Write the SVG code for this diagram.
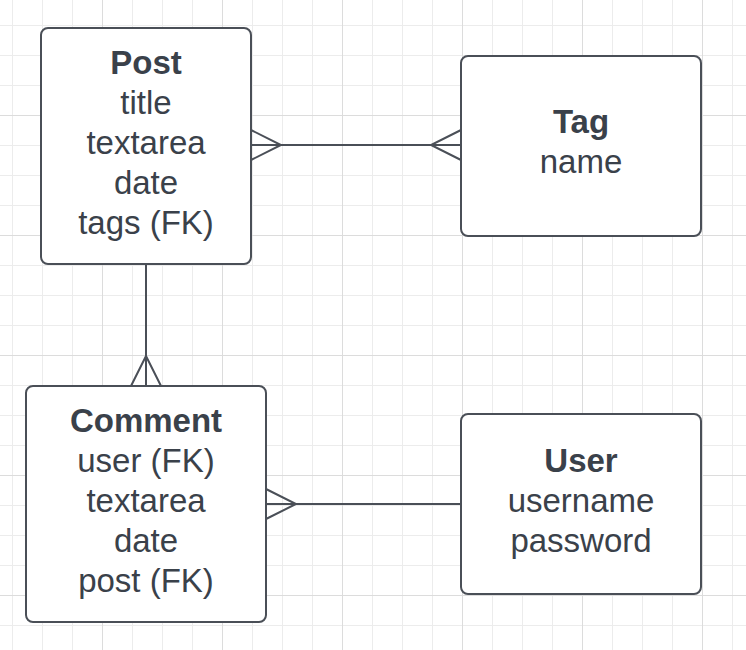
<svg xmlns="http://www.w3.org/2000/svg" width="746" height="650" viewBox="0 0 746 650">
  <style>
    .box { fill: #ffffff; stroke: #4a4f57; stroke-width: 2; }
    .conn { fill: none; stroke: #4a4f57; stroke-width: 2; }
    .t { font-family: "Liberation Sans", Arial, sans-serif; font-size: 33px; fill: #3a414a; text-anchor: middle; }
    .h { font-weight: bold; }
  </style>
  <defs>
    <pattern id="grid" patternUnits="userSpaceOnUse" x="12" y="25" width="120" height="120">
      <rect x="0" y="0" width="1" height="120" fill="#ececec"/>
      <rect x="30" y="0" width="1" height="120" fill="#ececec"/>
      <rect x="60" y="0" width="1" height="120" fill="#ececec"/>
      <rect x="0" y="0" width="120" height="1" fill="#ececec"/>
      <rect x="0" y="30" width="120" height="1" fill="#ececec"/>
      <rect x="0" y="60" width="120" height="1" fill="#ececec"/>
      <rect x="90" y="0" width="1" height="120" fill="#dcdcdc"/>
      <rect x="0" y="90" width="120" height="1" fill="#dcdcdc"/>
    </pattern>
  </defs>
  <rect x="0" y="0" width="746" height="650" fill="#ffffff"/>
  <rect x="0" y="0" width="746" height="650" fill="url(#grid)"/>

  <g id="connectors">
    <!-- Post - Tag -->
    <path class="conn" d="M251,145 H461"/>
    <path class="conn" d="M251,130 L281,145 L251,160"/>
    <path class="conn" d="M461,130 L431,145 L461,160"/>
    <!-- Post - Comment -->
    <path class="conn" d="M146,264 V386"/>
    <path class="conn" d="M131,386 L146,356 L161,386"/>
    <!-- Comment - User -->
    <path class="conn" d="M266,504 H461"/>
    <path class="conn" d="M266,489 L296,504 L266,519"/>
  </g>

  <g id="post">
    <rect class="box" x="41" y="28" width="210" height="236" rx="7"/>
    <text class="t h" x="146" y="74">Post</text>
    <text class="t" x="146" y="114">title</text>
    <text class="t" x="146" y="154">textarea</text>
    <text class="t" x="146" y="194">date</text>
    <text class="t" x="146" y="234">tags (FK)</text>
  </g>

  <g id="tag">
    <rect class="box" x="461" y="56" width="240" height="180" rx="7"/>
    <text class="t h" x="581" y="133">Tag</text>
    <text class="t" x="581" y="173">name</text>
  </g>

  <g id="comment">
    <rect class="box" x="26" y="386" width="240" height="236" rx="7"/>
    <text class="t h" x="146" y="432">Comment</text>
    <text class="t" x="146" y="472">user (FK)</text>
    <text class="t" x="146" y="512">textarea</text>
    <text class="t" x="146" y="552">date</text>
    <text class="t" x="146" y="592">post (FK)</text>
  </g>

  <g id="user">
    <rect class="box" x="461" y="414" width="240" height="180" rx="7"/>
    <text class="t h" x="581" y="472">User</text>
    <text class="t" x="581" y="512">username</text>
    <text class="t" x="581" y="552">password</text>
  </g>
</svg>
